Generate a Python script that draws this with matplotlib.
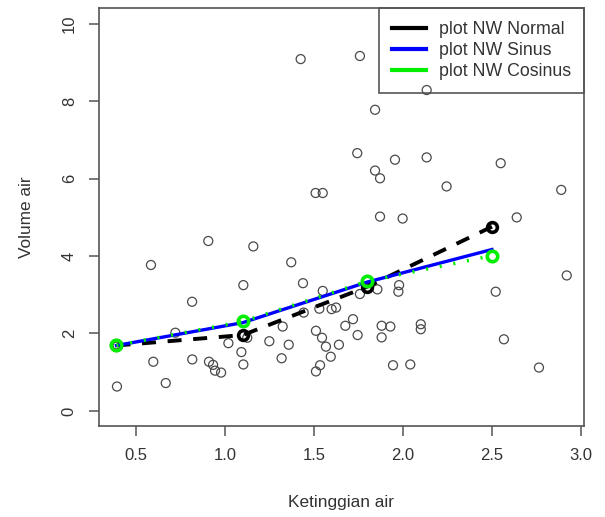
import matplotlib.pyplot as plt
from matplotlib.lines import Line2D

# Data pengamatan: ketinggian air vs volume air
ketinggian = [0.906, 1.159, 0.584, 1.103, 0.815, 0.721, 1.019, 1.125, 1.092, 1.103,
              0.597, 0.816, 0.910, 0.933, 0.944, 0.978, 0.667, 0.393, 1.372, 1.438,
              1.549, 1.530, 1.599, 1.624, 1.442, 1.758, 1.856, 1.978, 1.974, 1.324,
              1.249, 1.358, 1.318, 1.511, 1.545, 1.567, 1.640, 1.594, 1.534, 1.511,
              1.676, 1.719, 1.745, 1.880, 1.929, 1.880, 1.944, 2.041, 2.100, 2.100,
              2.521, 2.567, 2.764, 2.920, 2.133, 2.133, 2.549, 2.245, 2.889, 2.639,
              1.425, 1.758, 1.843, 1.743, 1.955, 1.843, 1.871, 1.509, 1.549, 1.871,
              1.998]
volume = [4.39, 4.25, 3.77, 3.25, 2.82, 2.02, 1.75, 1.89, 1.52, 1.20,
          1.27, 1.33, 1.27, 1.19, 1.04, 0.99, 0.72, 0.63, 3.84, 3.30,
          3.10, 2.64, 2.63, 2.67, 2.54, 3.02, 3.14, 3.25, 3.08, 2.18,
          1.80, 1.71, 1.36, 2.07, 1.89, 1.66, 1.71, 1.40, 1.18, 1.02,
          2.20, 2.37, 1.96, 2.20, 2.18, 1.90, 1.18, 1.20, 2.24, 2.11,
          3.08, 1.85, 1.12, 3.50, 8.29, 6.55, 6.40, 5.80, 5.71, 5.00,
          9.09, 9.17, 7.78, 6.66, 6.49, 6.21, 6.01, 5.63, 5.63, 5.02,
          4.97]

# Estimasi Nadaraya-Watson di titik-titik grid
x_nw = [0.39, 1.1, 1.8, 2.5]
nw_normal = [1.69, 1.96, 3.21, 4.76]
nw_sinus = [1.69, 2.28, 3.33, 4.17]
nw_cosinus = [1.69, 2.31, 3.35, 4.01]

plt.rcParams['font.family'] = ['Liberation Sans', 'DejaVu Sans']
abu = '#555555'
teks = '#333333'

fig = plt.figure(figsize=(6.05, 5.17), dpi=100)
ax = fig.add_axes([99 / 605, 1 - 426 / 517, (584 - 99) / 605, (426 - 8) / 517])

ax.scatter(ketinggian, volume, s=42, facecolors='none', edgecolors='#4a4a4a',
           linewidths=0.9, zorder=2)

ax.plot(x_nw, nw_normal, color='black', lw=2.8, linestyle=(0, (3.6, 3.0)),
        marker='o', markersize=7, mfc='none', mec='black', mew=2.6, zorder=3)
ax.plot(x_nw, nw_sinus, color='#0000ff', lw=2.4, zorder=4)
ax.plot(x_nw, nw_cosinus, color='#00ee00', lw=2.5, linestyle=(0, (0.6, 3.4)),
        marker='o', markersize=7.5, mfc='none', mec='#00ee00', mew=2.6, zorder=5)

ax.set_xlim(0.292, 3.017)
ax.set_ylim(-0.39, 10.41)
ax.set_xticks([0.5, 1.0, 1.5, 2.0, 2.5, 3.0])
ax.set_yticks([0, 2, 4, 6, 8, 10])
ax.set_yticklabels(['0', '2', '4', '6', '8', '10'], rotation=90, va='center')

for sp in ax.spines.values():
    sp.set_color(abu)
    sp.set_linewidth(1.2)
ax.tick_params(direction='out', length=7, width=1.1, color=abu,
               labelsize=12, labelcolor=teks, pad=9)

ax.set_xlabel('Ketinggian air', fontsize=12.4, color=teks, labelpad=23)
ax.set_ylabel('Volume air', fontsize=12.4, color=teks, labelpad=20)

handles = [Line2D([], [], color='black', lw=3),
           Line2D([], [], color='#0000ff', lw=3),
           Line2D([], [], color='#00ee00', lw=3)]
leg = ax.legend(handles, ['plot NW Normal', 'plot NW Sinus', 'plot NW Cosinus'],
                loc='upper right', borderaxespad=0, fancybox=False, framealpha=1,
                fontsize=12.8, handlelength=1.9, labelspacing=0.22,
                handletextpad=0.7, borderpad=0.75)
leg.get_frame().set_edgecolor(abu)
leg.get_frame().set_linewidth(1.2)
for t in leg.get_texts():
    t.set_color(teks)
# titik data tetap terlihat di atas kotak legenda
leg.set_zorder(1.5)

fig.savefig('out.png', dpi=100)
